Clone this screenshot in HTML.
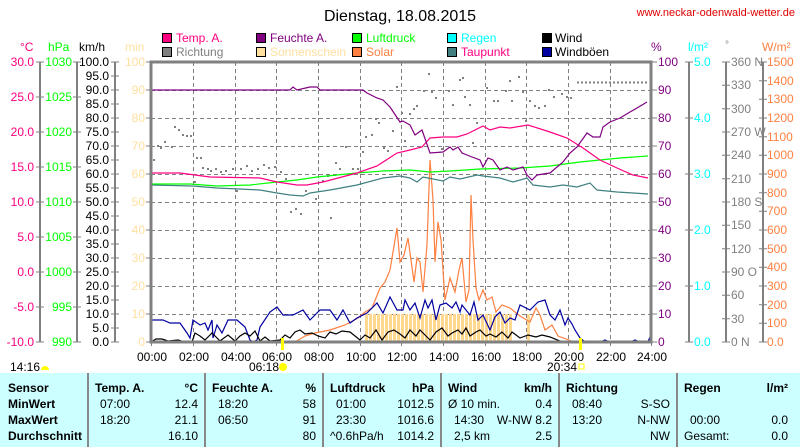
<!DOCTYPE html>
<html><head><meta charset="utf-8"><style>
body{margin:0;background:#fff;width:800px;height:447px;overflow:hidden}
svg{display:block;font-family:"Liberation Sans",sans-serif;font-size:12px}
</style></head><body>
<svg width="800" height="447" viewBox="0 0 800 447">
<text x="400" y="21" text-anchor="middle" font-size="16">Dienstag, 18.08.2015</text>
<text x="795" y="16" text-anchor="end" font-size="11" fill="#e00000">www.neckar-odenwald-wetter.de</text>
<g stroke="#000" stroke-width="1">
<rect x="162.5" y="33.5" width="9" height="9" fill="#ff0080"/><rect x="256.5" y="33.5" width="9" height="9" fill="#800080"/><rect x="352.5" y="33.5" width="9" height="9" fill="#00ff00"/><rect x="447.5" y="33.5" width="9" height="9" fill="#00ffff"/><rect x="542.5" y="33.5" width="9" height="9" fill="#000"/>
<rect x="162.5" y="47.5" width="9" height="9" fill="#808080"/><rect x="256.5" y="47.5" width="9" height="9" fill="#ffe0a0"/><rect x="352.5" y="47.5" width="9" height="9" fill="#ff8040"/><rect x="447.5" y="47.5" width="9" height="9" fill="#408080"/><rect x="542.5" y="47.5" width="9" height="9" fill="#0000a0"/>
</g>
<g font-size="12">
<text x="176" y="42" fill="#ff0080">Temp. A.</text><text x="270" y="42" fill="#800080">Feuchte A.</text><text x="366" y="42" fill="#00ff00">Luftdruck</text><text x="461" y="42" fill="#00ffff">Regen</text><text x="555" y="42">Wind</text>
<text x="176" y="56" fill="#808080">Richtung</text><text x="270" y="56" fill="#ffe0a0">Sonnenschein</text><text x="366" y="56" fill="#ff8040">Solar</text><text x="461" y="56" fill="#ff0080">Taupunkt</text><text x="555" y="56">Windböen</text>
</g>
<text x="20" y="51" fill="#ff0080">°C</text><text x="48" y="51" fill="#00ff00">hPa</text><text x="79" y="51">km/h</text><text x="125" y="51" fill="#ffe0a0">min</text>
<text x="651" y="51" fill="#800080">%</text><text x="688" y="51" fill="#00ffff">l/m²</text><text x="725" y="48" fill="#808080" font-size="10">°</text><text x="762" y="51" fill="#ff8040">W/m²</text>
<g stroke="#808080" stroke-width="2" fill="none">
<line x1="40" y1="62" x2="40" y2="342"/><line x1="77" y1="62" x2="77" y2="342"/><line x1="115" y1="62" x2="115" y2="342"/>
<line x1="689" y1="62" x2="689" y2="342"/><line x1="726" y1="62" x2="726" y2="342"/><line x1="763" y1="62" x2="763" y2="342"/>
</g>
<g stroke="#808080" stroke-width="1">
<path d="M36 62h8M36 97h8M36 132h8M36 167h8M36 202h8M36 237h8M36 272h8M36 307h8M36 342h8"/>
<path d="M73 62h8M73 97h8M73 132h8M73 167h8M73 202h8M73 237h8M73 272h8M73 307h8M73 342h8"/>
<path d="M111 62h8M111 76h8M111 90h8M111 104h8M111 118h8M111 132h8M111 146h8M111 160h8M111 174h8M111 188h8M111 202h8M111 216h8M111 230h8M111 244h8M111 258h8M111 272h8M111 286h8M111 300h8M111 314h8M111 328h8M111 342h8"/>
<path d="M146 62h5M146 90h5M146 118h5M146 146h5M146 174h5M146 202h5M146 230h5M146 258h5M146 286h5M146 314h5M146 342h5"/>
<path d="M651 62h6M651 90h6M651 118h6M651 146h6M651 174h6M651 202h6M651 230h6M651 258h6M651 286h6M651 314h6M651 342h6"/>
<path d="M685 62h8M685 118h8M685 174h8M685 230h8M685 286h8M685 342h8"/>
<path d="M722 62h8M722 85.3h8M722 108.7h8M722 132h8M722 155.3h8M722 178.7h8M722 202h8M722 225.3h8M722 248.7h8M722 272h8M722 295.3h8M722 318.7h8M722 342h8"/>
<path d="M759 62h8M759 80.7h8M759 99.3h8M759 118h8M759 136.7h8M759 155.3h8M759 174h8M759 192.7h8M759 211.3h8M759 230h8M759 248.7h8M759 267.3h8M759 286h8M759 304.7h8M759 323.3h8M759 342h8"/>
</g>
<g fill="#ff0080" text-anchor="end">
<text x="34" y="66">30.0</text><text x="34" y="101">25.0</text><text x="34" y="136">20.0</text><text x="34" y="171">15.0</text><text x="34" y="206">10.0</text><text x="34" y="241">5.0</text><text x="34" y="276">0.0</text><text x="34" y="311">-5.0</text><text x="34" y="346">-10.0</text>
</g>
<g fill="#00ff00" text-anchor="end">
<text x="72" y="66">1030</text><text x="72" y="101">1025</text><text x="72" y="136">1020</text><text x="72" y="171">1015</text><text x="72" y="206">1010</text><text x="72" y="241">1005</text><text x="72" y="276">1000</text><text x="72" y="311">995</text><text x="72" y="346">990</text>
</g>
<g fill="#000" text-anchor="end">
<text x="109" y="66">100.0</text><text x="109" y="80">95.0</text><text x="109" y="94">90.0</text><text x="109" y="108">85.0</text><text x="109" y="122">80.0</text><text x="109" y="136">75.0</text><text x="109" y="150">70.0</text><text x="109" y="164">65.0</text><text x="109" y="178">60.0</text><text x="109" y="192">55.0</text><text x="109" y="206">50.0</text><text x="109" y="220">45.0</text><text x="109" y="234">40.0</text><text x="109" y="248">35.0</text><text x="109" y="262">30.0</text><text x="109" y="276">25.0</text><text x="109" y="290">20.0</text><text x="109" y="304">15.0</text><text x="109" y="318">10.0</text><text x="109" y="332">5.0</text><text x="109" y="346">0.0</text>
</g>
<g fill="#ffe0a0" text-anchor="end">
<text x="145" y="66">100</text><text x="145" y="94">90</text><text x="145" y="122">80</text><text x="145" y="150">70</text><text x="145" y="178">60</text><text x="145" y="206">50</text><text x="145" y="234">40</text><text x="145" y="262">30</text><text x="145" y="290">20</text><text x="145" y="318">10</text><text x="145" y="346">0</text>
</g>
<g fill="#800080">
<text x="658" y="66">100</text><text x="658" y="94">90</text><text x="658" y="122">80</text><text x="658" y="150">70</text><text x="658" y="178">60</text><text x="658" y="206">50</text><text x="658" y="234">40</text><text x="658" y="262">30</text><text x="658" y="290">20</text><text x="658" y="318">10</text><text x="658" y="346">0</text>
</g>
<g fill="#00ffff">
<text x="694" y="66">5.0</text><text x="694" y="122">4.0</text><text x="694" y="178">3.0</text><text x="694" y="234">2.0</text><text x="694" y="290">1.0</text><text x="694" y="346">0.0</text>
</g>
<g fill="#808080">
<text x="731" y="66">360 N</text><text x="731" y="89">330</text><text x="731" y="113">300</text><text x="731" y="136">270 W</text><text x="731" y="159">240</text><text x="731" y="183">210</text><text x="731" y="206">180 S</text><text x="731" y="229">150</text><text x="731" y="253">120</text><text x="731" y="276">90 O</text><text x="731" y="299">60</text><text x="731" y="323">30</text><text x="731" y="346">0 N</text>
</g>
<g fill="#ff8040">
<text x="767" y="66">1500</text><text x="767" y="85">1400</text><text x="767" y="103">1300</text><text x="767" y="122">1200</text><text x="767" y="141">1100</text><text x="767" y="159">1000</text><text x="767" y="178">900</text><text x="767" y="197">800</text><text x="767" y="215">700</text><text x="767" y="234">600</text><text x="767" y="253">500</text><text x="767" y="271">400</text><text x="767" y="290">300</text><text x="767" y="309">200</text><text x="767" y="327">100</text><text x="767" y="346">0.0</text>
</g>
<g stroke="#808080" stroke-width="1" stroke-dasharray="4,3">
<path d="M193.5 62V342M235.5 62V342M276.5 62V342M318.5 62V342M360.5 62V342M401.5 62V342M443.5 62V342M485.5 62V342M526.5 62V342M568.5 62V342M610.5 62V342"/>
<path d="M151 90.5H651M151 118.5H651M151 146.5H651M151 174.5H651M151 202.5H651M151 230.5H651M151 258.5H651M151 286.5H651M151 314.5H651"/>
</g>
<defs><pattern id="sb" x="365" y="0" width="4" height="10" patternUnits="userSpaceOnUse"><rect width="3" height="10" fill="#ffd890"/></pattern></defs>
<rect x="365" y="314" width="148" height="28" fill="url(#sb)"/>
<rect x="527" y="314" width="3" height="28" fill="#ffd890"/>
<g fill="#808080">
<rect x="153" y="159" width="2" height="2"/><rect x="157" y="145" width="2" height="2"/><rect x="160" y="147" width="2" height="2"/><rect x="164" y="141" width="2" height="2"/><rect x="171" y="146" width="2" height="2"/><rect x="174" y="126" width="2" height="2"/><rect x="178" y="129" width="2" height="2"/><rect x="182" y="134" width="2" height="2"/><rect x="186" y="135" width="2" height="2"/><rect x="190" y="135" width="2" height="2"/><rect x="194" y="181" width="2" height="2"/><rect x="196" y="157" width="2" height="2"/><rect x="200" y="157" width="2" height="2"/><rect x="202" y="167" width="2" height="2"/><rect x="207" y="168" width="2" height="2"/><rect x="210" y="170" width="2" height="2"/><rect x="215" y="168" width="2" height="2"/><rect x="220" y="171" width="2" height="2"/><rect x="225" y="170" width="2" height="2"/><rect x="232" y="168" width="2" height="2"/><rect x="236" y="190" width="2" height="2"/><rect x="240" y="168" width="2" height="2"/><rect x="246" y="165" width="2" height="2"/><rect x="251" y="170" width="2" height="2"/><rect x="257" y="168" width="2" height="2"/><rect x="263" y="164" width="2" height="2"/><rect x="268" y="167" width="2" height="2"/><rect x="274" y="166" width="2" height="2"/><rect x="280" y="171" width="2" height="2"/><rect x="285" y="178" width="2" height="2"/><rect x="290" y="211" width="2" height="2"/><rect x="295" y="208" width="2" height="2"/><rect x="300" y="213" width="2" height="2"/><rect x="305" y="190" width="2" height="2"/><rect x="315" y="198" width="2" height="2"/><rect x="322" y="180" width="2" height="2"/><rect x="327" y="175" width="2" height="2"/><rect x="330" y="217" width="2" height="2"/><rect x="335" y="162" width="2" height="2"/><rect x="339" y="168" width="2" height="2"/><rect x="345" y="146" width="2" height="2"/><rect x="352" y="168" width="2" height="2"/><rect x="357" y="168" width="2" height="2"/><rect x="362" y="151" width="2" height="2"/><rect x="365" y="136" width="2" height="2"/><rect x="371" y="134" width="2" height="2"/><rect x="375" y="118" width="2" height="2"/><rect x="378" y="122" width="2" height="2"/><rect x="383" y="147" width="2" height="2"/><rect x="387" y="150" width="2" height="2"/><rect x="392" y="130" width="2" height="2"/><rect x="396" y="86" width="2" height="2"/><rect x="401" y="112" width="2" height="2"/><rect x="404" y="140" width="2" height="2"/><rect x="409" y="113" width="2" height="2"/><rect x="413" y="108" width="2" height="2"/><rect x="416" y="105" width="2" height="2"/><rect x="423" y="90" width="2" height="2"/><rect x="428" y="73" width="2" height="2"/><rect x="431" y="91" width="2" height="2"/><rect x="435" y="97" width="2" height="2"/><rect x="441" y="148" width="2" height="2"/><rect x="448" y="90" width="2" height="2"/><rect x="452" y="104" width="2" height="2"/><rect x="459" y="79" width="2" height="2"/><rect x="462" y="77" width="2" height="2"/><rect x="464" y="96" width="2" height="2"/><rect x="469" y="104" width="2" height="2"/><rect x="472" y="142" width="2" height="2"/><rect x="476" y="122" width="2" height="2"/><rect x="486" y="87" width="2" height="2"/><rect x="493" y="100" width="2" height="2"/><rect x="497" y="100" width="2" height="2"/><rect x="505" y="90" width="2" height="2"/><rect x="509" y="80" width="2" height="2"/><rect x="511" y="100" width="2" height="2"/><rect x="518" y="76" width="2" height="2"/><rect x="522" y="91" width="2" height="2"/><rect x="525" y="120" width="2" height="2"/><rect x="529" y="100" width="2" height="2"/><rect x="534" y="105" width="2" height="2"/><rect x="538" y="107" width="2" height="2"/><rect x="544" y="105" width="2" height="2"/><rect x="548" y="89" width="2" height="2"/><rect x="553" y="96" width="2" height="2"/><rect x="561" y="93" width="2" height="2"/><rect x="566" y="96" width="2" height="2"/><rect x="570" y="97" width="2" height="2"/>
</g>
<path d="M577 82.5H648" stroke="#808080" stroke-width="2" stroke-dasharray="2,2"/>
<g fill="none" stroke-width="1.2">
<polyline stroke="#ff8040" points="295,342 305,336 315,333 330,330 345,325 358,318 365,312 372,308 376,298 380,288 385,282 390,270 393,252 397,228 400,262 404,255 408,238 411,260 414,282 417,258 420,262 423,292 427,245 430,160 433,200 435,262 438,222 441,240 445,300 450,278 455,292 459,270 462,258 466,302 469,290 471,195 473,240 476,288 479,300 483,290 487,300 492,297 496,312 502,305 510,308 520,316 530,322 536,308 540,315 545,330 552,325 558,336 566,339 574,342"/>
<polyline stroke="#0000a0" points="151,338 152,320 163,320 170,323 180,323 187,333 190,338 193,320 200,325 205,323 208,330 212,320 213,338 217,325 222,333 228,320 237,320 245,327 250,340 253,342 257,340 260,327 270,312 277,307 283,315 293,315 303,310 310,320 320,310 330,310 337,320 343,310 350,323 357,318 367,313 377,303 383,313 390,297 397,310 403,310 405,300 410,310 415,303 420,318 425,300 428,308 432,300 436,320 440,305 446,303 452,308 456,302 460,312 462,305 466,310 470,315 474,302 478,320 483,315 490,330 495,317 500,312 505,323 510,318 515,320 520,305 530,310 538,302 545,300 550,315 555,320 560,310 565,325 568,318 572,324 575,330 580,338 585,342 600,342 605,340 610,342 630,342 635,340 640,342 648,342 650,337"/>
<polyline stroke="#000" points="151,342 156,339 162,339 168,341 178,340 185,342 192,342 195,333 200,336 205,340 212,333 220,341 228,335 235,341 240,336 245,333 250,336 255,331 260,341 265,337 270,341 280,340 285,335 290,338 295,332 300,330 305,334 312,333 318,336 325,338 330,332 336,334 342,331 350,332 355,336 360,340 365,335 370,338 376,330 382,340 388,332 394,330 400,334 405,338 410,330 416,336 420,330 426,336 430,340 436,332 442,328 448,336 452,333 458,330 462,334 466,328 470,336 476,332 480,330 486,336 490,334 496,337 502,332 508,338 512,332 520,338 528,335 536,337 542,335 550,337 560,341 575,342"/>
<polyline stroke="#408080" points="151,185 193,186 217,188 260,190 277,193 290,195 303,196 310,193 330,190 357,185 383,178 400,176 410,178 417,182 423,177 443,181 450,177 460,179 477,175 483,176 500,178 513,182 527,178 533,185 550,187 563,185 577,187 590,183 597,190 617,192 633,193 648,194"/>
<polyline stroke="#00ff00" points="151,184 190,184 217,186 250,185 277,182 297,180 317,177 357,173 383,171 410,170 430,172 450,171 480,169 520,168 550,166 580,162 600,160 620,158 648,156"/>
<polyline stroke="#ff0080" points="151,173 180,173 210,177 260,178 277,182 297,185 307,185 323,182 357,173 377,166 397,153 410,150 422,147 430,138 443,137 457,137 467,134 483,126 490,130 500,127 510,128 528,125 550,132 567,138 583,148 600,160 617,168 633,175 648,178"/>
<polyline stroke="#800080" points="151,90 290,90 293,87 297,90 310,87 317,87 320,90 363,90 367,93 377,98 383,100 390,107 400,122 403,121 410,125 415,135 422,130 430,153 443,152 450,147 453,150 458,147 462,153 472,157 480,160 483,167 488,158 493,160 500,170 507,167 513,170 523,167 527,175 532,180 537,175 550,173 557,167 563,162 570,153 577,147 587,133 593,137 600,137 603,127 610,122 620,118 630,112 637,108 647,102"/>
</g>
<rect x="151" y="62" width="500" height="280" fill="none" stroke="#808080" stroke-width="3"/>
<g stroke="#808080"><path d="M151.5 342v4M193.5 342v4M235.5 342v4M276.5 342v4M318.5 342v4M360.5 342v4M401.5 342v4M443.5 342v4M485.5 342v4M526.5 342v4M568.5 342v4M610.5 342v4M651.5 342v4"/></g>
<g text-anchor="middle">
<text x="152" y="361">00:00</text><text x="194" y="361">02:00</text><text x="236" y="361">04:00</text><text x="277" y="361">06:00</text><text x="319" y="361">08:00</text><text x="361" y="361">10:00</text><text x="402" y="361">12:00</text><text x="444" y="361">14:00</text><text x="486" y="361">16:00</text><text x="527" y="361">18:00</text><text x="569" y="361">20:00</text><text x="611" y="361">22:00</text><text x="652" y="361">24:00</text>
</g>
<rect x="281" y="338" width="3" height="12" fill="#ffff00"/><rect x="579" y="338" width="3" height="12" fill="#ffff00"/>
<text x="249" y="371">06:18</text><circle cx="283" cy="367" r="4" fill="#ffff00"/>
<text x="547" y="371">20:34</text><rect x="579" y="364" width="5" height="5" fill="none" stroke="#ffff00"/>
<text x="10" y="371">14:16</text><path d="M41 370a4 4 0 0 1 8 0z" fill="#ffff00"/>
</svg>
<div style="position:absolute;left:0;top:373px;width:800px;height:74px;background:#ccffff;font-family:'Liberation Sans',sans-serif;font-size:12px">
<svg width="800" height="74" style="position:absolute;left:0;top:0">
<g stroke="#888" stroke-width="2"><line x1="88" y1="0" x2="88" y2="74"/><line x1="205" y1="0" x2="205" y2="74"/><line x1="323" y1="0" x2="323" y2="74"/><line x1="441" y1="0" x2="441" y2="74"/><line x1="559" y1="0" x2="559" y2="74"/><line x1="677" y1="0" x2="677" y2="74"/></g>
<g font-weight="bold"><text x="8" y="19">Sensor</text><text x="8" y="35">MinWert</text><text x="8" y="51">MaxWert</text><text x="8" y="67">Durchschnitt</text>
<text x="95" y="19">Temp. A.</text><text x="198" y="19" text-anchor="end">°C</text>
<text x="212" y="19">Feuchte A.</text><text x="316" y="19" text-anchor="end">%</text>
<text x="330" y="19">Luftdruck</text><text x="434" y="19" text-anchor="end">hPa</text>
<text x="448" y="19">Wind</text><text x="552" y="19" text-anchor="end">km/h</text>
<text x="566" y="19">Richtung</text>
<text x="684" y="19">Regen</text><text x="788" y="19" text-anchor="end">l/m²</text></g>
<text x="100" y="35">07:00</text><text x="198" y="35" text-anchor="end">12.4</text>
<text x="100" y="51">18:20</text><text x="198" y="51" text-anchor="end">21.1</text>
<text x="198" y="67" text-anchor="end">16.10</text>
<text x="218" y="35">18:20</text><text x="316" y="35" text-anchor="end">58</text>
<text x="218" y="51">06:50</text><text x="316" y="51" text-anchor="end">91</text>
<text x="316" y="67" text-anchor="end">80</text>
<text x="336" y="35">01:00</text><text x="434" y="35" text-anchor="end">1012.5</text>
<text x="336" y="51">23:30</text><text x="434" y="51" text-anchor="end">1016.6</text>
<text x="330" y="67">^0.6hPa/h</text><text x="434" y="67" text-anchor="end">1014.2</text>
<text x="448" y="35">Ø 10 min.</text><text x="552" y="35" text-anchor="end">0.4</text>
<text x="454" y="51">14:30</text><text x="552" y="51" text-anchor="end">W-NW 8.2</text>
<text x="454" y="67">2,5 km</text><text x="552" y="67" text-anchor="end">2.5</text>
<text x="572" y="35">08:40</text><text x="670" y="35" text-anchor="end">S-SO</text>
<text x="572" y="51">13:20</text><text x="670" y="51" text-anchor="end">N-NW</text>
<text x="670" y="67" text-anchor="end">NW</text>
<text x="690" y="51">00:00</text><text x="788" y="51" text-anchor="end">0.0</text>
<text x="684" y="67">Gesamt:</text><text x="788" y="67" text-anchor="end">0.0</text>
</svg></div>
</body></html>
